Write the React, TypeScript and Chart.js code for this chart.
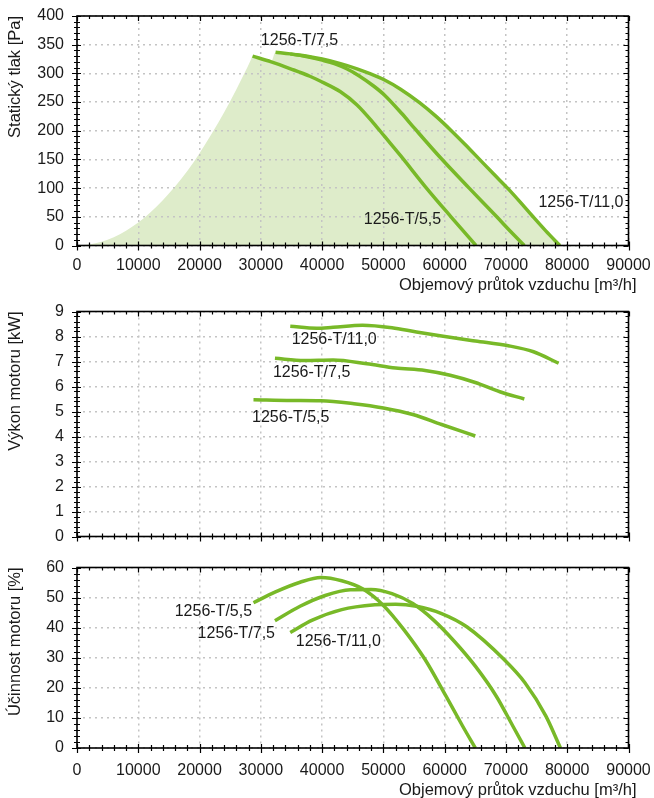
import React, { useEffect, useRef } from 'react';
import { Chart, registerables } from 'chart.js';

Chart.register(...registerables);

const FONT = '"Liberation Sans", Arial, Helvetica, sans-serif';
const GREEN = '#78b928';
const FILL = '#deecca';
const TEXT = '#1a1a1a';
const GRID = '#c4c4c4';

// ---------- shared x axis ----------
const X_MIN = 0;
const X_MAX = 90000;
const X_STEP = 10000;
const X_TITLE = 'Objemový průtok vzduchu [m³/h]';

// ---------- chart 1: static pressure ----------
const p55X = [28650, 31700, 34840, 38000, 40000, 43000, 45700, 48420, 50200, 52770, 56960, 61030, 65100];
const p55Y = [330, 320, 308, 295, 285, 268, 245, 213, 190, 157, 101, 50, 0];
const p75X = [32400, 34800, 38000, 40000, 42000, 44000, 46000, 48400, 50200, 53000, 55100, 59400, 64000, 68500, 70800, 73000];
const p75Y = [337, 334, 328, 323, 317, 308, 296, 278, 262, 230, 204, 152, 100, 50, 24, 0];
const p11X = [34800, 38000, 40000, 43000, 45700, 47700, 50200, 52800, 55900, 58600, 61000, 63300, 65650, 68000, 70300, 72300, 74350, 76500, 78800];
const p11Y = [334, 329, 325, 317, 308, 300, 288.5, 272.5, 249, 225, 201, 176.5, 150.5, 124.5, 99.5, 76, 51, 25.5, 0];
// working area (shaded): system curve up to the 5,5 curve, notch, then the upper envelope
const areaX = [0, 2000, 4000, 6000, 8000, 10000, 12000, 14000, 16000, 18000, 20000, 22000, 24000, 26000, 27500, 28000, 28300, 28650, 30200, 31650, 32400,
  34800, 38000, 40000, 43000, 45700, 47700, 50200, 52800, 55900, 58600, 61000, 63300, 65650, 68000, 70300, 72300, 74350, 76500, 78800];
const areaY = [0, 1.6, 6.4, 14.5, 25.7, 40, 58, 79, 103, 130, 161, 195, 232, 272, 304, 315, 322, 330, 325, 320, 337,
  334, 329, 325, 317, 308, 300, 288.5, 272.5, 249, 225, 201, 176.5, 150.5, 124.5, 99.5, 76, 51, 25.5, 0];
const pLabelText = ['1256-T/7,5', '1256-T/5,5', '1256-T/11,0'];
const pLabelX = [30000, 46800, 75300];
const pLabelY = [358, 46, 74];
const pLabelAlign = ['left', 'left', 'left'];

// ---------- chart 2: motor power ----------
const w55X = [28800, 35000, 39800, 45200, 50000, 54800, 59500, 65000];
const w55Y = [5.47, 5.44, 5.43, 5.31, 5.14, 4.88, 4.48, 4.02];
const w75X = [32300, 37100, 41800, 47300, 52000, 56800, 60900, 65000, 69000, 73000];
const w75Y = [7.13, 7.04, 7.06, 6.91, 6.74, 6.64, 6.45, 6.16, 5.79, 5.5];
const w11X = [34800, 39100, 41800, 46600, 51400, 55400, 59500, 65000, 70400, 74500, 78600];
const w11Y = [8.41, 8.33, 8.37, 8.45, 8.35, 8.18, 8.02, 7.82, 7.63, 7.39, 6.93];
const wLabelText = ['1256-T/11,0', '1256-T/7,5', '1256-T/5,5'];
const wLabelX = [35030, 31970, 28570];
const wLabelY = [7.89, 6.55, 4.74];
const wLabelAlign = ['left', 'left', 'left'];

// ---------- chart 3: motor efficiency ----------
const e55X = [28800, 32300, 36400, 39800, 43200, 46600, 50000, 53400, 56800, 60200, 62900, 65000];
const e55Y = [48.3, 51.8, 55.1, 56.7, 55.6, 52.9, 47.4, 39.2, 29.4, 17.3, 7.4, 0];
const e75X = [32300, 36400, 40500, 44600, 48000, 51400, 54800, 58200, 61600, 65000, 68400, 71100, 73100];
const e75Y = [42.3, 47.1, 50.7, 52.6, 52.7, 51.3, 48.0, 42.5, 35.4, 27.2, 17.3, 7.4, 0];
const e11X = [34800, 38400, 43200, 48600, 52000, 55400, 59500, 63600, 69700, 73100, 76500, 78900];
const e11Y = [38.4, 42.5, 46.0, 47.6, 47.8, 47.1, 44.7, 40.3, 29.4, 21.7, 10.7, 0];
const eLabelText = ['1256-T/5,5', '1256-T/7,5', '1256-T/11,0'];
const eLabelX = [28570, 32310, 35700];
const eLabelY = [45.2, 38.1, 35.4];
const eLabelAlign = ['right', 'right', 'left'];

const pts = (xs: number[], ys: number[]) => xs.map((x, i) => ({ x, y: ys[i] }));

const lineDs = (xs: number[], ys: number[]) => ({
  data: pts(xs, ys),
  borderColor: GREEN,
  borderWidth: 3.5,
  pointRadius: 0,
  fill: false,
  cubicInterpolationMode: 'monotone',
  borderCapStyle: 'butt',
});

function decor(o: {
  xMinor: number;
  yMinor: number;
  yMajor: number;
  labels: { text: string[]; x: number[]; y: number[]; align: string[] };
  xTitleY?: number;
}) {
  return {
    id: 'decor',
    afterDraw(chart: any) {
      const { ctx, chartArea: a, scales } = chart;
      const xs = scales.x;
      const ys = scales.y;
      ctx.save();
      ctx.strokeStyle = '#000';
      ctx.lineWidth = 1.2;
      ctx.beginPath();
      const nx = Math.round((xs.max - xs.min) / o.xMinor);
      for (let i = 0; i <= nx; i++) {
        const v = xs.min + i * o.xMinor;
        const px = Math.round(xs.getPixelForValue(v)) + 0.5;
        const major = Math.abs(v / X_STEP - Math.round(v / X_STEP)) < 1e-6;
        ctx.moveTo(px, a.bottom - (major ? 4 : 3));
        ctx.lineTo(px, a.bottom + (major ? 5 : 3));
        ctx.moveTo(px, a.top);
        ctx.lineTo(px, a.top + (major ? 5 : 3));
      }
      const ny = Math.round((ys.max - ys.min) / o.yMinor);
      for (let i = 0; i <= ny; i++) {
        const v = ys.min + i * o.yMinor;
        const py = Math.round(ys.getPixelForValue(v)) + 0.5;
        const major = Math.abs(v / o.yMajor - Math.round(v / o.yMajor)) < 1e-6;
        ctx.moveTo(a.left - (major ? 5 : 3), py);
        ctx.lineTo(a.left + (major ? 4 : 3), py);
        ctx.moveTo(a.right, py);
        ctx.lineTo(a.right - (major ? 5 : 3), py);
      }
      ctx.stroke();
      ctx.lineWidth = 1.6;
      ctx.strokeRect(a.left, a.top, a.right - a.left, a.bottom - a.top);

      ctx.fillStyle = TEXT;
      ctx.font = `16px ${FONT}`;
      ctx.textBaseline = 'middle';
      o.labels.text.forEach((t, i) => {
        ctx.textAlign = o.labels.align[i];
        ctx.fillText(t, xs.getPixelForValue(o.labels.x[i]), ys.getPixelForValue(o.labels.y[i]));
      });
      if (o.xTitleY !== undefined) {
        ctx.font = `16.5px ${FONT}`;
        ctx.textAlign = 'right';
        ctx.fillText(X_TITLE, a.right + 8, o.xTitleY);
      }
      ctx.restore();
    },
  };
}

function buildConfig(p: {
  datasets: any[];
  yMax: number;
  yStep: number;
  yMinor: number;
  yTitle: string;
  padTop: number;
  xHeight: number;
  showX: boolean;
  xPad: number;
  labels: { text: string[]; x: number[]; y: number[]; align: string[] };
  xTitleY?: number;
}) {
  const font = { size: 16, family: FONT };
  const titleFont = { size: 16.5, family: FONT };
  return {
    type: 'line',
    data: { datasets: p.datasets },
    plugins: [decor({ xMinor: 2000, yMinor: p.yMinor, yMajor: p.yStep, labels: p.labels, xTitleY: p.xTitleY })],
    options: {
      responsive: false,
      animation: false,
      devicePixelRatio: 1,
      layout: { padding: { left: 0, right: 25.5, top: p.padTop, bottom: 0 } },
      plugins: {
        legend: { display: false },
        tooltip: { enabled: false },
        filler: { propagate: false, drawTime: 'beforeDraw' },
      },
      scales: {
        x: {
          type: 'linear',
          min: X_MIN,
          max: X_MAX,
          afterFit: (s: any) => {
            s.height = p.xHeight;
            s.paddingLeft = 0;
            s.paddingRight = 0;
          },
          ticks: {
            display: p.showX,
            stepSize: X_STEP,
            callback: (v: any) => String(v),
            padding: p.xPad,
            color: TEXT,
            font,
            maxRotation: 0,
            autoSkip: false,
          },
          grid: { color: GRID, lineWidth: 1.5, drawTicks: false },
          border: { display: false, dash: [2, 4] },
        },
        y: {
          type: 'linear',
          min: 0,
          max: p.yMax,
          afterFit: (s: any) => {
            s.width = 77;
            s.paddingTop = 0;
            s.paddingBottom = 0;
          },
          ticks: { stepSize: p.yStep, padding: 13, color: TEXT, font, callback: (v: any) => String(v) },
          grid: { color: GRID, lineWidth: 1.5, drawTicks: false },
          border: { display: false, dash: [2, 4] },
          title: { display: true, text: p.yTitle, align: 'end', color: TEXT, font: titleFont, padding: { top: 6, bottom: 0 } },
        },
      },
    },
  };
}

function ChartCanvas({ top, height, build }: { top: number; height: number; build: () => any }) {
  const ref = useRef<HTMLCanvasElement>(null);
  useEffect(() => {
    const chart = new Chart(ref.current as HTMLCanvasElement, build());
    return () => chart.destroy();
  }, []);
  return (
    <canvas
      ref={ref}
      width={654}
      height={height}
      style={{ position: 'absolute', left: 0, top, width: 654, height, display: 'block' }}
    />
  );
}

export default function App() {
  return (
    <div style={{ position: 'absolute', left: 0, top: 0, width: 654, height: 798, background: '#fff' }}>
      <ChartCanvas
        top={0}
        height={300}
        build={() =>
          buildConfig({
            datasets: [
              {
                data: pts(areaX, areaY),
                borderWidth: 0,
                borderColor: 'rgba(0,0,0,0)',
                backgroundColor: FILL,
                pointRadius: 0,
                fill: 'origin',
                cubicInterpolationMode: 'monotone',
              },
              lineDs(p55X, p55Y),
              lineDs(p75X, p75Y),
              lineDs(p11X, p11Y),
            ],
            yMax: 400,
            yStep: 50,
            yMinor: 10,
            yTitle: 'Statický tlak [Pa]',
            padTop: 16,
            xHeight: 54.5,
            showX: true,
            xPad: 10,
            labels: { text: pLabelText, x: pLabelX, y: pLabelY, align: pLabelAlign },
            xTitleY: 285,
          })
        }
      />
      <ChartCanvas
        top={290}
        height={258}
        build={() =>
          buildConfig({
            datasets: [lineDs(w55X, w55Y), lineDs(w75X, w75Y), lineDs(w11X, w11Y)],
            yMax: 9,
            yStep: 1,
            yMinor: 0.2,
            yTitle: 'Výkon motoru [kW]',
            padTop: 21.5,
            xHeight: 11.5,
            showX: false,
            xPad: 10,
            labels: { text: wLabelText, x: wLabelX, y: wLabelY, align: wLabelAlign },
          })
        }
      />
      <ChartCanvas
        top={548}
        height={250}
        build={() =>
          buildConfig({
            datasets: [lineDs(e55X, e55Y), lineDs(e75X, e75Y), lineDs(e11X, e11Y)],
            yMax: 60,
            yStep: 10,
            yMinor: 2,
            yTitle: 'Účinnost motoru [%]',
            padTop: 19.5,
            xHeight: 50,
            showX: true,
            xPad: 12.5,
            labels: { text: eLabelText, x: eLabelX, y: eLabelY, align: eLabelAlign },
            xTitleY: 242,
          })
        }
      />
    </div>
  );
}
